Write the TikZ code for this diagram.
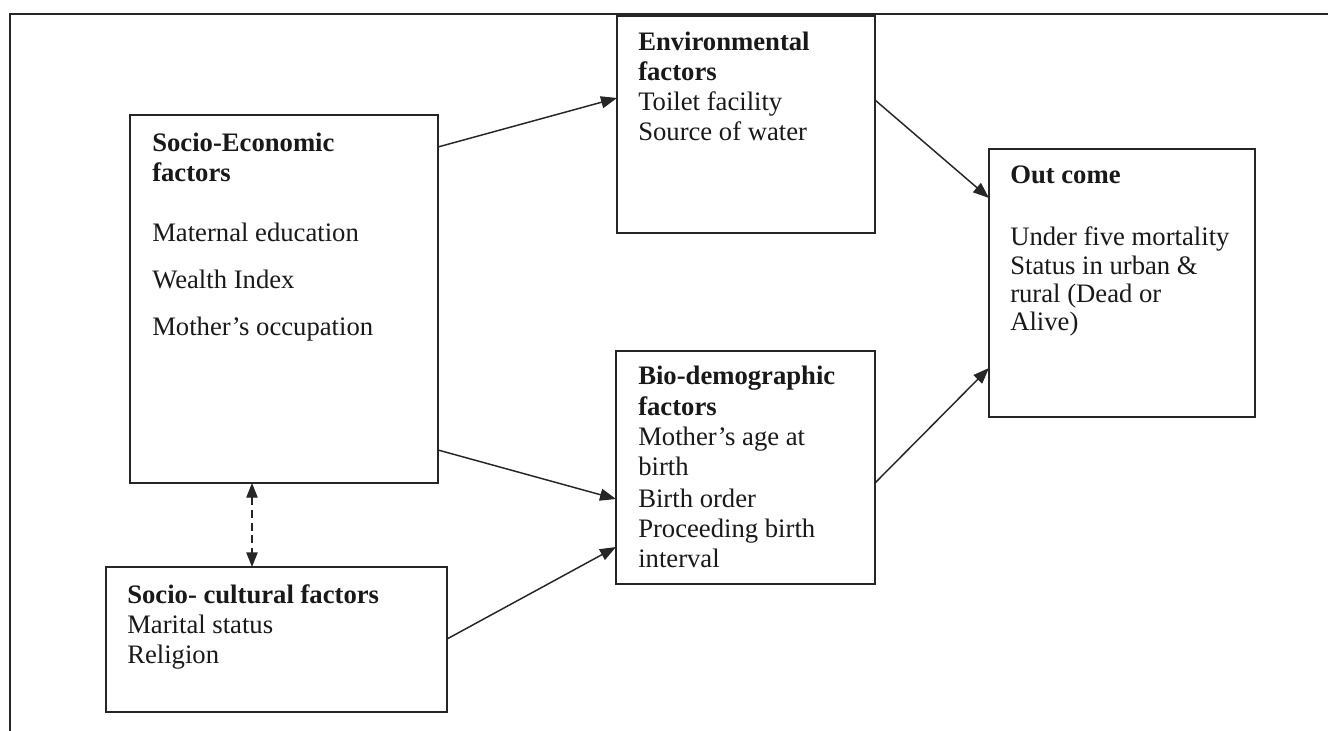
\documentclass[tikz,border=0pt]{standalone}
\usepackage{fontspec}
\setmainfont{Liberation Serif}
\usetikzlibrary{arrows.meta,calc}
\begin{document}
\begin{tikzpicture}[x=0.75pt,y=-0.75pt,
  frame/.style={draw=black!85, line width=1.3pt},
  box/.style={draw=black!85, line width=1.3pt, rectangle, anchor=north west, inner sep=0pt, outer sep=0pt},
  lbl/.style={anchor=base west, inner sep=0pt, text=black!90, font=\fontsize{20}{22}\selectfont},
  ttl/.style={lbl, font=\fontsize{20}{22}\selectfont\bfseries},
  link/.style={draw=black!85, line width=1.1pt, -{Triangle[length=12pt,width=9pt]}},
  dlink/.style={draw=black!85, line width=1pt, dash pattern=on 6pt off 3.5pt,
    {Triangle[length=11pt,width=8.5pt]}-{Triangle[length=11pt,width=8.5pt]}}
]
\useasboundingbox (0,0) rectangle (1328,731);
\fill[white] (0,0) rectangle (1328,731);
\draw[frame] (10,731) -- (10,14) -- (1328,14);

% boxes
\node[box, minimum width=308*0.75pt, minimum height=368*0.75pt] (se)  at (130,115) {};
\node[box, minimum width=341*0.75pt, minimum height=145*0.75pt] (sc)  at (106,567) {};
\node[box, minimum width=258*0.75pt, minimum height=217*0.75pt] (env) at (617,16) {};
\node[box, minimum width=259*0.75pt, minimum height=233*0.75pt] (bio) at (616,351) {};
\node[box, minimum width=266*0.75pt, minimum height=268*0.75pt] (out) at (989,149) {};

% Socio-Economic texts
\node[ttl] (se1) at (152,152) {Socio-Economic};
\node[ttl] (se2) at (152,181) {factors};
\node[lbl] (se3) at (152,242) {Maternal education};
\node[lbl] (se4) at (152,288) {Wealth Index};
\node[lbl] (se5) at (152,335) {Mother’s occupation};

% Socio-cultural texts
\node[ttl] (sc1) at (127,603) {Socio- cultural factors};
\node[lbl] (sc2) at (127,633) {Marital status};
\node[lbl] (sc3) at (127,663) {Religion};

% Environmental texts
\node[ttl] (env1) at (638,51) {Environmental};
\node[ttl] (env2) at (638,81) {factors};
\node[lbl] (env3) at (638,111) {Toilet facility};
\node[lbl] (env4) at (638,141) {Source of water};

% Bio-demographic texts
\node[ttl] (bio1) at (638,384) {Bio-demographic};
\node[ttl] (bio2) at (638,415) {factors};
\node[lbl] (bio3) at (638,445) {Mother's age at};
\node[lbl] (bio4) at (638,475) {birth};
\node[lbl] (bio5) at (638,507) {Birth order};
\node[lbl] (bio6) at (638,537) {Proceeding birth};
\node[lbl] (bio7) at (638,567) {interval};

% Outcome texts
\node[ttl] (out1) at (1010,184) {Out come};
\node[lbl] (out2) at (1010,245) {Under five mortality};
\node[lbl] (out3) at (1010,274) {Status in urban \&};
\node[lbl] (out4) at (1010,302) {rural (Dead or};
\node[lbl] (out5) at (1010,330) {Alive)};

% connectors
\draw[link] ($(se.north east)+(0,32)$) -- ($(env.north west)+(0,82)$);
\draw[link] ($(env.north east)+(0,84)$) -- ($(out.north west)+(0,49)$);
\draw[link] ($(se.north east)+(0,335)$) -- ($(bio.north west)+(0,148)$);
\draw[link] ($(sc.north east)+(0,72)$) -- ($(bio.north west)+(0,196)$);
\draw[link] ($(bio.north east)+(0,132)$) -- ($(out.north west)+(0,219)$);
\draw[dlink] ($(se.south west)+(122,0)$) -- ($(sc.north west)+(146,0)$);
\end{tikzpicture}
\end{document}
